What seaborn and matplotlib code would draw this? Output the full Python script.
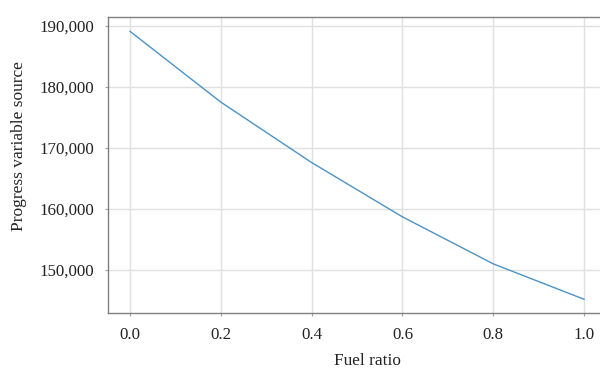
import matplotlib
matplotlib.use("Agg")
import matplotlib.pyplot as plt
import matplotlib.ticker as mticker
import seaborn as sns
import pandas as pd

fuel_ratio = [0.0, 0.2, 0.4, 0.6, 0.8, 1.0]
progress_source = [189100, 177500, 167600, 158700, 151000, 145200]

sns.set_theme(style="whitegrid")
plt.rcParams['font.family'] = ['Liberation Serif', 'DejaVu Serif']

df = pd.DataFrame({"Fuel ratio": fuel_ratio, "Progress variable source": progress_source})

fig = plt.figure(figsize=(6, 3.7), dpi=100)
ax = fig.add_axes([108/600, 1 - 313/370, (606-108)/600, (313-17)/370])
sns.lineplot(data=df, x="Fuel ratio", y="Progress variable source", ax=ax,
             color="#4b93c3", linewidth=1.0)

ax.set_xlim(-0.048, 1.048)
ax.set_ylim(142960, 191420)
ax.set_xticks(fuel_ratio)
ax.set_xticklabels([f"{v:.1f}" for v in fuel_ratio])
ax.set_yticks([150000, 160000, 170000, 180000, 190000])
ax.yaxis.set_major_formatter(mticker.FuncFormatter(lambda v, p: f"{int(v):,}"))

ax.grid(True, color="#e0e0e0", linewidth=1.0)
for s in ["left", "bottom", "top"]:
    ax.spines[s].set_color("#808080")
    ax.spines[s].set_linewidth(1.0)
ax.spines["right"].set_visible(False)
ax.tick_params(axis="both", which="major", length=2, width=0.8, color="#a0a0a0",
               labelsize=12.2, labelcolor="#222222", pad=8, direction="out",
               bottom=True, left=True)
ax.set_xlabel("Fuel ratio", fontsize=12.4, color="#222222")
ax.set_ylabel("Progress variable source", fontsize=12.5, color="#222222")
ax.xaxis.set_label_coords(0.521, -0.135)
ax.yaxis.set_label_coords(-0.162, 0.5625)

fig.savefig("out.png", dpi=100)
